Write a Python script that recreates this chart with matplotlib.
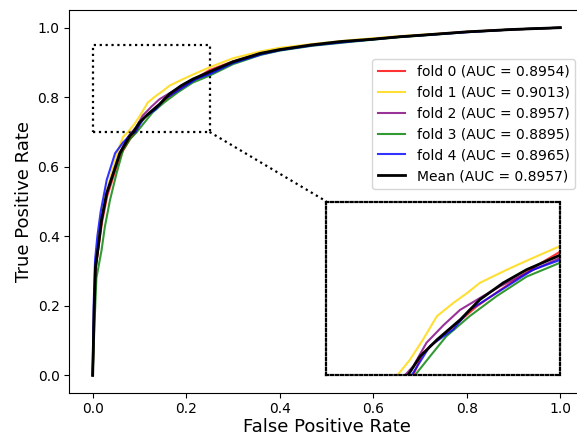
import matplotlib
matplotlib.use("Agg")
import matplotlib.pyplot as plt
from matplotlib.patches import Rectangle

# ---- data ----
fold_labels = ["fold 0 (AUC = 0.8954)", "fold 1 (AUC = 0.9013)", "fold 2 (AUC = 0.8957)",
               "fold 3 (AUC = 0.8895)", "fold 4 (AUC = 0.8965)"]
mean_label = "Mean (AUC = 0.8957)"
fold_colors = ["red", "gold", "purple", "green", "blue"]

fpr0 = [0, 0.003, 0.006, 0.012, 0.020, 0.031, 0.045, 0.060, 0.080, 0.0927, 0.103, 0.118, 0.1355, 0.1605, 0.185, 0.207, 0.23, 0.25, 0.30, 0.36, 0.40, 0.47, 0.55, 0.65, 0.80, 0.90, 1.0]
tpr0 = [0, 0.17, 0.30, 0.365, 0.44, 0.515, 0.575, 0.635, 0.68, 0.70, 0.732, 0.750, 0.770, 0.799, 0.822, 0.842, 0.862, 0.878, 0.903, 0.926, 0.937, 0.951, 0.961, 0.973, 0.988, 0.995, 1.0]

fpr1 = [0, 0.002, 0.005, 0.011, 0.018, 0.029, 0.042, 0.055, 0.065, 0.0756, 0.089, 0.103, 0.118, 0.1355, 0.150, 0.164, 0.193, 0.221, 0.25, 0.30, 0.36, 0.40, 0.47, 0.55, 0.65, 0.80, 0.90, 1.0]
tpr1 = [0, 0.17, 0.31, 0.37, 0.45, 0.525, 0.59, 0.65, 0.686, 0.70, 0.722, 0.751, 0.785, 0.804, 0.818, 0.833, 0.852, 0.869, 0.886, 0.912, 0.932, 0.942, 0.953, 0.964, 0.975, 0.988, 0.995, 1.0]

fpr2 = [0, 0.003, 0.006, 0.012, 0.019, 0.030, 0.044, 0.058, 0.075, 0.0838, 0.0927, 0.107, 0.125, 0.1427, 0.165, 0.1855, 0.22, 0.25, 0.30, 0.36, 0.40, 0.47, 0.55, 0.65, 0.80, 0.90, 1.0]
tpr2 = [0, 0.17, 0.30, 0.37, 0.445, 0.52, 0.58, 0.64, 0.685, 0.70, 0.713, 0.747, 0.772, 0.794, 0.812, 0.828, 0.851, 0.869, 0.900, 0.925, 0.936, 0.950, 0.961, 0.973, 0.988, 0.995, 1.0]

fpr3 = [0, 0.004, 0.008, 0.019, 0.026, 0.037, 0.051, 0.065, 0.080, 0.0945, 0.1105, 0.128, 0.153, 0.182, 0.214, 0.25, 0.30, 0.36, 0.40, 0.47, 0.55, 0.65, 0.80, 0.90, 1.0]
tpr3 = [0, 0.15, 0.28, 0.36, 0.427, 0.504, 0.581, 0.648, 0.68, 0.70, 0.727, 0.756, 0.785, 0.814, 0.842, 0.862, 0.895, 0.922, 0.934, 0.948, 0.959, 0.972, 0.987, 0.995, 1.0]

fpr4 = [0, 0.002, 0.005, 0.010, 0.017, 0.030, 0.048, 0.065, 0.080, 0.091, 0.1105, 0.1355, 0.153, 0.193, 0.221, 0.25, 0.30, 0.36, 0.40, 0.47, 0.55, 0.65, 0.80, 0.90, 1.0]
tpr4 = [0, 0.20, 0.33, 0.40, 0.47, 0.562, 0.639, 0.67, 0.69, 0.70, 0.742, 0.766, 0.794, 0.828, 0.852, 0.866, 0.898, 0.923, 0.935, 0.949, 0.960, 0.973, 0.987, 0.995, 1.0]

fpr_mean = [0.0, 0.003, 0.006, 0.012, 0.019, 0.030, 0.044, 0.058, 0.080, 0.087, 0.100, 0.118, 0.143, 0.164, 0.189, 0.214, 0.250, 0.300, 0.358, 0.400, 0.465, 0.529, 0.600, 0.657, 0.720, 0.800, 0.900, 1.000]
tpr_mean = [0.0, 0.178, 0.312, 0.370, 0.447, 0.524, 0.581, 0.639, 0.690, 0.700, 0.727, 0.751, 0.780, 0.809, 0.833, 0.852, 0.873, 0.902, 0.926, 0.937, 0.950, 0.960, 0.967, 0.974, 0.980, 0.988, 0.995, 1.000]

fold_fprs = [fpr0, fpr1, fpr2, fpr3, fpr4]
fold_tprs = [tpr0, tpr1, tpr2, tpr3, tpr4]

# zoom region and inset location (data coords)
zoom_x = (0.0, 0.25)
zoom_y = (0.7, 0.95)
inset_box = (0.5, 0.0, 0.5, 0.5)

# ---- figure ----
fig = plt.figure(figsize=(5.77, 4.38), dpi=100)
ax = fig.add_axes([0.1201, 0.1034, 0.8915, 0.8731])

def draw_curves(a, with_labels):
    for f, t, c, lab in zip(fold_fprs, fold_tprs, fold_colors, fold_labels):
        a.plot(f, t, color=c, lw=1.5, alpha=0.8, label=lab if with_labels else None)
    a.plot(fpr_mean, tpr_mean, color="black", lw=2.0, label=mean_label if with_labels else None)

draw_curves(ax, True)
ax.set_xlim(-0.05, 1.05)
ax.set_ylim(-0.05, 1.05)
ax.set_xlabel("False Positive Rate", fontsize=13, labelpad=1)
ax.set_ylabel("True Positive Rate", fontsize=13, labelpad=3)
ax.tick_params(labelsize=10)

ax.legend(loc="upper right", bbox_to_anchor=(0.983, 0.8727), borderaxespad=0, fontsize=10)

# zoom rectangle
ax.add_patch(Rectangle((zoom_x[0], zoom_y[0]), zoom_x[1] - zoom_x[0], zoom_y[1] - zoom_y[0],
                       fill=False, ls=":", lw=1.6, color="black"))

# inset
ins = ax.inset_axes(list(inset_box), transform=ax.transData)
draw_curves(ins, False)
ins.set_xlim(*zoom_x)
ins.set_ylim(*zoom_y)
ins.set_xticks([])
ins.set_yticks([])
for sp in ins.spines.values():
    sp.set_linestyle((0, (1, 1.2)))
    sp.set_linewidth(1.6)

# connector line
ax.plot([zoom_x[1], inset_box[0]], [zoom_y[0], inset_box[1] + inset_box[3]],
        ls=":", lw=1.6, color="black")

fig.savefig("out.png", dpi=100)
